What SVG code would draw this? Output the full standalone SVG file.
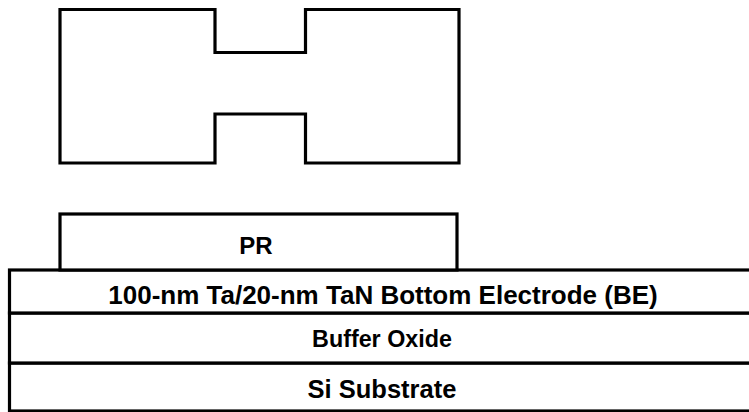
<svg xmlns="http://www.w3.org/2000/svg" width="749" height="412" viewBox="0 0 749 412">
<style>
.s{fill:#fff;stroke:#000;stroke-width:3.2}
.t{font-family:"Liberation Sans",Arial,sans-serif;font-weight:bold;fill:#000;text-anchor:middle}
</style>
<rect width="749" height="412" fill="#fff"/>
<g id="mask">
<path class="s" d="M60,9.5 H215 V52.5 H305.5 V9.5 H459 V163 H305.5 V114 H215 V163 H60 Z"/>
</g>
<g id="substrate">
<rect class="s" x="9.5" y="363" width="745" height="48"/>
<text class="t" x="382" y="398" font-size="25.5">Si Substrate</text>
</g>
<g id="buffer">
<rect class="s" x="9.5" y="313" width="745" height="50"/>
<text class="t" x="382" y="347" font-size="23.3">Buffer Oxide</text>
</g>
<g id="be">
<rect class="s" x="9.5" y="270" width="745" height="43"/>
<text class="t" x="383" y="304" font-size="26">100-nm Ta/20-nm TaN Bottom Electrode (BE)</text>
</g>
<g id="pr">
<rect class="s" x="60" y="214" width="397" height="56"/>
<text class="t" x="256" y="254" font-size="24">PR</text>
</g>
<g id="connectors"/>
</svg>
